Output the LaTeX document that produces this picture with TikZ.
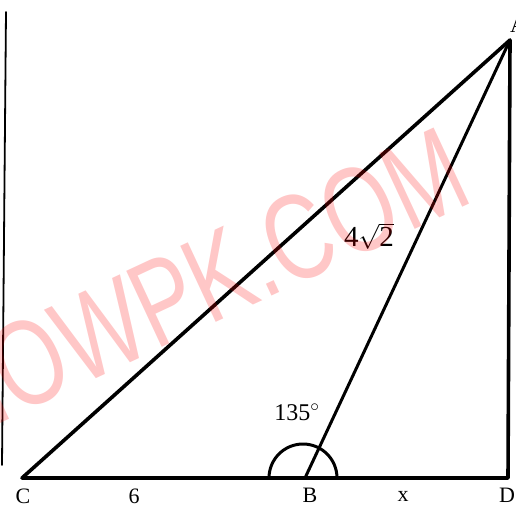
\documentclass[tikz,border=0pt]{standalone}
\usepackage{fontspec}
\setmainfont{Liberation Serif}
\newfontfamily\wmfont{Liberation Sans}
\begin{document}
\begin{tikzpicture}[x=1pt,y=-1pt,line join=round,line cap=round]
\useasboundingbox (0,0) rectangle (516,506);
\tikzset{
  edge/.style={line width=3.6pt},
  thinedge/.style={line width=3pt},
  lbl/.style={font=\fontsize{22}{22}\selectfont,inner sep=0pt},
  mathlbl/.style={font=\fontsize{29}{29}\selectfont,inner sep=0pt}
}
\coordinate (A) at (510,40);
\coordinate (B) at (305,478);
\coordinate (C) at (22,478);
\coordinate (D) at (508,478);
\coordinate (L1) at (6,12);
\coordinate (L2) at (2,465);
% left border line
\draw[line width=1.8pt] (L1) -- (L2);
% triangle
\draw[edge] (C) -- (D) -- (A) -- cycle;
\draw[thinedge] (B) -- (A);
% angle arc
\draw[line width=3pt] (269,478) arc[start angle=180,end angle=360,radius=34];
% labels
\node[lbl] (lA) at (518,25) {A};
\node[lbl] (lC) at (23,496) {C};
\node[lbl] (l6) at (134,496) {6};
\node[lbl] (lB) at (310,495) {B};
\node[lbl] (lx) at (403,496) {x};
\node[lbl] (lD) at (507,495) {D};
\node[mathlbl] (l42) at (369,236) {4$\sqrt{\mbox{2}}$};
\node[lbl,font=\fontsize{24}{24}\selectfont] (l135) at (297,412) {135$^{\circ}$};
% watermark
\node[text=red,text opacity=0.22,font=\wmfont\fontsize{122}{122}\selectfont,rotate=25,inner sep=0pt] (wm) at (199,284) {\scalebox{0.735}[1]{NOWPK.COM}};
\end{tikzpicture}
\end{document}
